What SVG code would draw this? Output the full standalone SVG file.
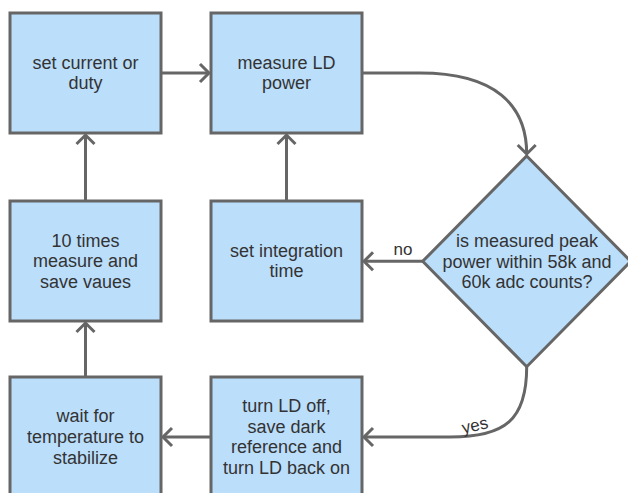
<svg xmlns="http://www.w3.org/2000/svg" width="628" height="493" viewBox="0 0 628 493">
<style>
.node rect, .node polygon { fill: #BBDEFB; stroke: #666666; stroke-width: 3; }
.node text { font-family: "Liberation Sans", Arial, sans-serif; font-size: 18px; fill: #333333; text-anchor: middle; }
.edge { fill: none; stroke: #666666; stroke-width: 3; marker-end: url(#arr); }
.lbl { font-family: "Liberation Sans", Arial, sans-serif; font-size: 17px; fill: #333333; text-anchor: middle; }
</style>
<defs>
<marker id="arr" markerUnits="userSpaceOnUse" markerWidth="30" markerHeight="30" viewBox="-15 -15 30 30" refX="0" refY="0" orient="auto" overflow="visible">
<path d="M-9,-9 L0,0 L-9,9" fill="none" stroke="#666666" stroke-width="3"/>
</marker>
</defs>
<rect x="0" y="0" width="628" height="493" fill="#ffffff"/>
<g id="connectors">
<path class="edge" d="M161,73 L209,73"/>
<path class="edge" d="M85.5,201 L85.5,135"/>
<path class="edge" d="M286.5,201 L286.5,135"/>
<path class="edge" d="M85.5,377 L85.5,323"/>
<path class="edge" d="M211,437 L163,437"/>
<path class="edge" d="M422.7,261.3 L364,261.3"/>
<path class="edge" d="M362,73 L420,73 C495,73 526.7,105 526.7,154"/>
<path class="edge" d="M526.7,366.7 C526.7,420 505,437 450,437 L364,437"/>
<text class="lbl" x="403" y="255">no</text>
<text class="lbl" x="475" y="431" transform="rotate(-13 475 426)">yes</text>
</g>
<g id="n1" class="node">
<rect x="10" y="13" width="151" height="120"/>
<text x="85.5" y="68.6">set current or</text>
<text x="85.5" y="89.4">duty</text>
</g>
<g id="n2" class="node">
<rect x="211" y="13" width="151" height="120"/>
<text x="286.5" y="68.6">measure LD</text>
<text x="286.5" y="89.4">power</text>
</g>
<g id="n3" class="node">
<rect x="10" y="201" width="151" height="120"/>
<text x="85.5" y="246.5">10 times</text>
<text x="85.5" y="267.2">measure and</text>
<text x="85.5" y="287.9">save vaues</text>
</g>
<g id="n4" class="node">
<rect x="211" y="201" width="151" height="120"/>
<text x="286.5" y="256.6">set integration</text>
<text x="286.5" y="277.4">time</text>
</g>
<g id="n5" class="node">
<polygon points="526.7,156 630.7,261.3 526.7,366.7 422.7,261.3"/>
<text x="527" y="246.8">is measured peak</text>
<text x="527" y="267.5">power within 58k and</text>
<text x="527" y="288.2">60k adc counts?</text>
</g>
<g id="n6" class="node">
<rect x="10" y="377" width="151" height="120"/>
<text x="85.5" y="422.3">wait for</text>
<text x="85.5" y="443">temperature to</text>
<text x="85.5" y="463.7">stabilize</text>
</g>
<g id="n7" class="node">
<rect x="211" y="377" width="151" height="120"/>
<text x="286.5" y="412">turn LD off,</text>
<text x="286.5" y="432.7">save dark</text>
<text x="286.5" y="453.4">reference and</text>
<text x="286.5" y="474.1">turn LD back on</text>
</g>
</svg>
